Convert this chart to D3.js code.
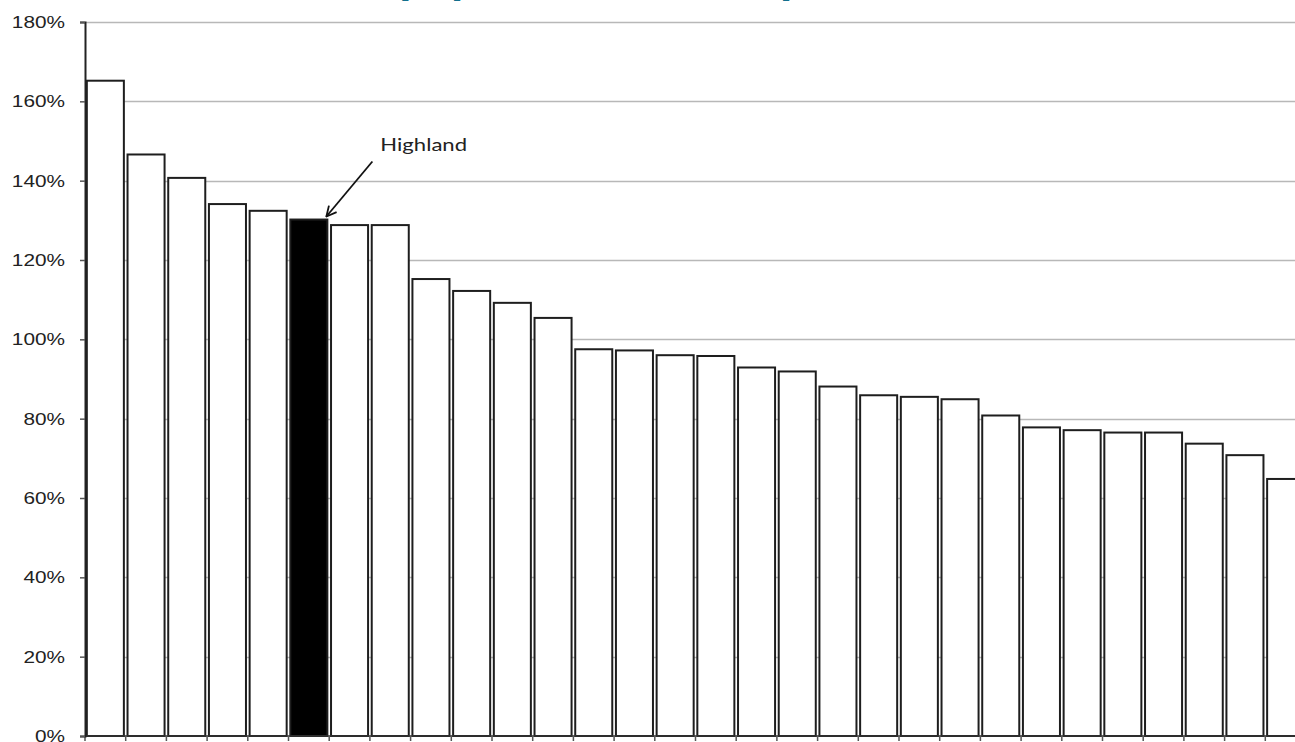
<!DOCTYPE html>
<html>
<head>
<meta charset="utf-8">
<script src="https://cdn.jsdelivr.net/npm/d3@7"></script>
<style>
  html, body { margin: 0; padding: 0; background: #fff; overflow: hidden; }
  svg { display: block; }
</style>
</head>
<body>
<svg id="chart" width="1295" height="742"></svg>
<script>
// Councils ranked by value; the highlighted one is labelled.
const councils = [
  "C01", "C02", "C03", "C04", "C05", "Highland", "C07", "C08", "C09", "C10",
  "C11", "C12", "C13", "C14", "C15", "C16", "C17", "C18", "C19", "C20",
  "C21", "C22", "C23", "C24", "C25", "C26", "C27", "C28", "C29", "C30"
];
// Values as a percentage
const values = [
  165.2, 146.6, 140.7, 134.1, 132.4, 130.2, 128.8, 128.8, 115.2, 112.2,
  109.2, 105.4, 97.5, 97.2, 96.0, 95.8, 92.9, 91.9, 88.1, 85.9,
  85.5, 84.9, 80.8, 77.8, 77.1, 76.5, 76.5, 73.7, 70.8, 64.8
];
const yTicks = [0, 20, 40, 60, 80, 100, 120, 140, 160, 180];
const highlighted = "Highland";
const titleText = "Share of population as compared with Scotland";

const svg = d3.select("#chart");
const W = 1295;
const plotLeft = 85, plotTop = 22, plotBottom = 736;
const step = 40.7;
const textStretch = 1.3;

const x = d3.scaleBand()
  .domain(councils)
  .range([plotLeft, plotLeft + step * councils.length])
  .paddingInner(0.09)
  .paddingOuter(0.045);

const y = d3.scaleLinear().domain([0, 180]).range([plotBottom, plotTop]);

// Title (runs off the top edge)
const title = svg.append("text")
  .attr("font-family", "'Open Sans', sans-serif")
  .attr("font-weight", 700)
  .attr("font-size", 30)
  .attr("fill", "#13708d")
  .text(titleText);
{
  const node = title.node();
  const i1 = titleText.indexOf("p");
  const i3 = titleText.indexOf("p", titleText.indexOf("compared"));
  let p1 = 0, p3 = 300;
  try {
    p1 = node.getStartPositionOfChar(i1).x;
    p3 = node.getStartPositionOfChar(i3).x;
  } catch (e) { /* keep defaults */ }
  const sx = 381 / (p3 - p1);
  title.attr("transform", `translate(${399 - p1 * sx},-6) scale(${sx},1)`);
}

// Horizontal gridlines
svg.append("g")
  .selectAll("line")
  .data(yTicks.filter(d => d > 0))
  .join("line")
  .attr("x1", plotLeft).attr("x2", W)
  .attr("y1", d => Math.round(y(d)) + 0.5)
  .attr("y2", d => Math.round(y(d)) + 0.5)
  .attr("stroke", "#b8b8b8")
  .attr("stroke-width", 1.5);

// Bars
svg.append("g")
  .selectAll("rect")
  .data(councils.map((c, i) => ({ c, v: values[i] })))
  .join("rect")
  .attr("x", d => x(d.c))
  .attr("y", d => y(d.v))
  .attr("width", x.bandwidth())
  .attr("height", d => plotBottom - y(d.v))
  .attr("fill", d => d.c === highlighted ? "#000" : "#fff")
  .attr("stroke", "#1e1e1e")
  .attr("stroke-width", 2);

// X axis: baseline with ticks between categories
const xAxis = svg.append("g");
xAxis.append("line")
  .attr("x1", plotLeft).attr("x2", W)
  .attr("y1", plotBottom).attr("y2", plotBottom)
  .attr("stroke", "#333").attr("stroke-width", 1.5);
xAxis.selectAll("line.tick")
  .data(d3.range(councils.length + 1))
  .join("line")
  .attr("class", "tick")
  .attr("x1", i => plotLeft + i * x.step())
  .attr("x2", i => plotLeft + i * x.step())
  .attr("y1", plotBottom).attr("y2", plotBottom + 5)
  .attr("stroke", "#555").attr("stroke-width", 1.5);

// Y axis
const yAxis = svg.append("g")
  .attr("transform", `translate(${plotLeft},0)`)
  .call(d3.axisLeft(y).tickValues(yTicks).tickSize(5).tickFormat(d => d + "%"));
yAxis.select(".domain").attr("stroke", "#222").attr("stroke-width", 2);
yAxis.selectAll(".tick line").attr("stroke", "#555").attr("stroke-width", 1.5);
yAxis.selectAll(".tick text")
  .attr("x", null)
  .attr("dy", "0.35em")
  .attr("text-anchor", "end")
  .attr("transform", `translate(-20,0) scale(${textStretch},1)`)
  .attr("font-family", "'Liberation Sans', Arial, sans-serif")
  .attr("font-size", 16)
  .attr("fill", "#222");

// Annotation for the highlighted council
const hx = x(highlighted) + x.bandwidth();
const hy = y(values[councils.indexOf(highlighted)]);
svg.append("defs").append("marker")
  .attr("id", "arrowhead")
  .attr("viewBox", "0 0 12 12")
  .attr("refX", 11).attr("refY", 6)
  .attr("markerWidth", 12).attr("markerHeight", 12)
  .attr("markerUnits", "userSpaceOnUse")
  .attr("orient", "auto")
  .append("path")
  .attr("d", "M1,1 L11,6 L1,11")
  .attr("fill", "none")
  .attr("stroke", "#111")
  .attr("stroke-width", 1.8);
svg.append("line")
  .attr("x1", hx + 45).attr("y1", hy - 58)
  .attr("x2", hx - 1).attr("y2", hy - 3)
  .attr("stroke", "#111")
  .attr("stroke-width", 1.8)
  .attr("marker-end", "url(#arrowhead)");
svg.append("text")
  .attr("transform", `translate(${hx + 53},${hy - 69}) scale(${textStretch},1)`)
  .attr("font-family", "Lato, 'Open Sans', sans-serif")
  .attr("font-size", 17)
  .attr("fill", "#222")
  .text(highlighted);
</script>
</body>
</html>
